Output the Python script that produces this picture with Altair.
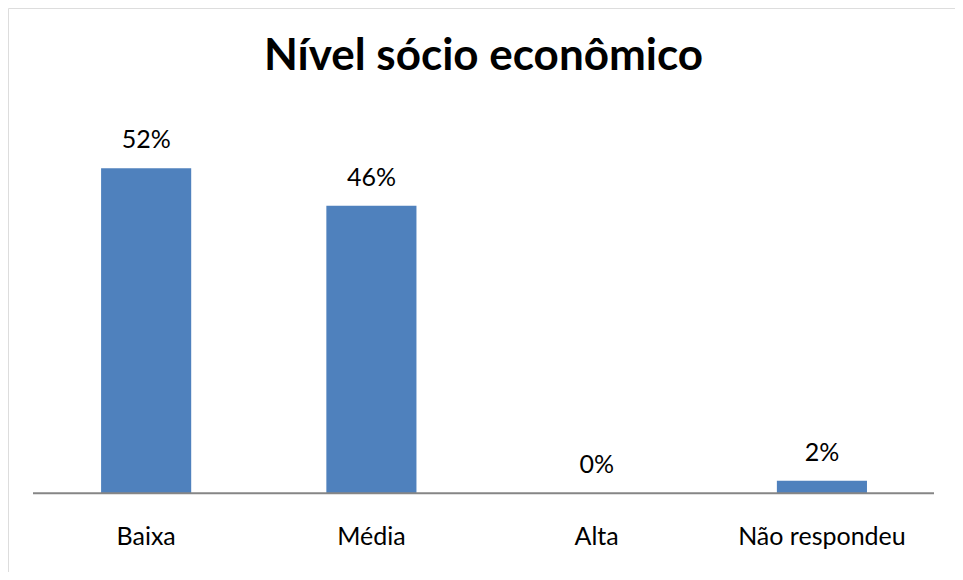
import altair as alt
import pandas as pd

title_text = "Nível sócio econômico"
categories = ["Baixa", "Média", "Alta", "Não respondeu"]
values = [52, 46, 0, 2]
labels = ["52%", "46%", "0%", "2%"]

df = pd.DataFrame({"cat": categories, "val": values, "lab": labels})

W, H = 947, 564

x_enc = alt.X(
    "cat:N",
    sort=categories,
    scale=alt.Scale(paddingInner=0.6, paddingOuter=0.402, align=0.514),
    axis=alt.Axis(
        title=None, domain=False, ticks=False, tickSize=0, labelAngle=0,
        labelFont="Lato", labelFontSize=25, labelColor="#000000",
        labelBaseline="alphabetic", labelPadding=51, offset=-78.7,
    ),
)
y_scale = alt.Scale(domain=[-12.59, 77.65], nice=False, zero=False)

base = alt.Chart(df)

bars = base.mark_bar(color="#4F81BD").encode(
    x=x_enc,
    y=alt.Y("val:Q", scale=y_scale, axis=None),
    y2=alt.datum(0),
)

text = base.mark_text(
    font="Lato", fontSize=25, color="#000000", baseline="alphabetic", dy=-20
).encode(
    x=alt.X("cat:N", sort=categories),
    y=alt.Y("val:Q", scale=y_scale),
    text="lab:N",
)

baseline = alt.Chart(pd.DataFrame({"z": [0]})).mark_rule(
    color="#868686", strokeWidth=2
).encode(
    y=alt.Y("z:Q", scale=y_scale),
    x=alt.value(25),
    x2=alt.value(926),
)

title = alt.Chart(pd.DataFrame({"t": [title_text]})).mark_text(
    font="Lato", fontSize=44, fontWeight="bold", color="#000000",
    baseline="alphabetic", align="center",
).encode(
    text="t:N",
    x=alt.value(W / 2 + 2),
    y=alt.value(62),
)

chart = alt.layer(bars, baseline, text, title).properties(
    width=W,
    height=H,
    autosize=alt.AutoSizeParams(type="none"),
    padding=0,
).configure_view(
    stroke="#878787", strokeWidth=1.5
).configure(background="white")

chart.save("out.html", embed_options={"renderer": "svg", "actions": False})
